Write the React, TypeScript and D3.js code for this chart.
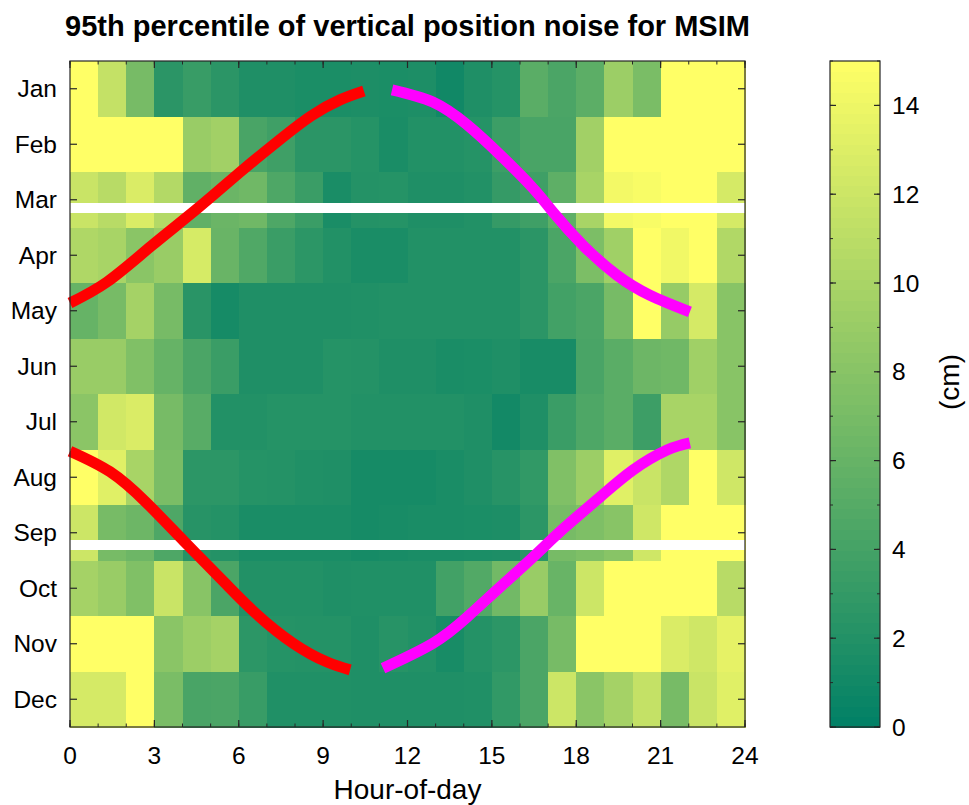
import React from 'react';
import * as d3 from 'd3';

const months = ['Jan', 'Feb', 'Mar', 'Apr', 'May', 'Jun', 'Jul', 'Aug', 'Sep', 'Oct', 'Nov', 'Dec'];
const hourTicks = [0, 3, 6, 9, 12, 15, 18, 21, 24];
const colorTicks = [0, 2, 4, 6, 8, 10, 12, 14];

// 95th percentile noise (cm), one row per month, 24 hourly bins
const noiseJan = [15, 11.5, 7, 2.5, 3.3, 2.5, 1.8, 1.8, 1.6, 1.6, 1.7, 1.6, 1.7, 1.0, 1.8, 2.2, 5.3, 4.4, 5.4, 9.2, 7.2, 15, 15, 15];
const noiseFeb = [15, 15, 15, 15, 9, 9.5, 4.3, 3.7, 2.5, 2.5, 2.2, 1.5, 2, 2, 2.2, 3.5, 4.3, 4.3, 9.5, 15, 15, 15, 15, 15];
const noiseMar = [11.8, 10.8, 12.8, 10.5, 5.7, 6.3, 6.6, 4.6, 3.4, 1.5, 2.1, 2.2, 1.8, 1.8, 2, 3.1, 3.7, 5.5, 9.9, 14.3, 14.6, 15, 15, 12.5];
const noiseApr = [10.3, 9.9, 8.1, 9, 12.6, 6.2, 4.7, 3.4, 2.6, 2, 1.5, 1.5, 2, 2, 2, 2, 2.5, 4.4, 7.3, 9.4, 15, 14.2, 15, 10.4];
const noiseMay = [6, 7, 9.7, 7, 2.4, 1.3, 1.8, 1.8, 1.8, 1.8, 1.9, 2, 2, 2, 2, 2, 2.5, 3.9, 4.4, 7, 15, 8.8, 12.5, 8];
const noiseJun = [9, 9, 7.5, 6, 4.4, 3.4, 1.8, 1.8, 1.8, 2.2, 2.1, 1.8, 1.8, 1.5, 1.6, 1.8, 1.4, 1.4, 4.3, 5.3, 6.4, 6.6, 9.4, 8];
const noiseJul = [8.2, 12.3, 12.8, 7, 5.2, 2, 2, 2.2, 2.2, 2.2, 2, 2, 2, 2, 1.8, 1.1, 1.8, 3.4, 4.6, 5.3, 3.6, 9.9, 9.9, 8];
const noiseAug = [15, 13.2, 9.9, 7.2, 2.6, 2.6, 2.2, 2.1, 1.9, 1.8, 1.3, 1.3, 1.3, 1.5, 1.8, 2.3, 2.9, 7.5, 9.2, 13.2, 11.8, 10.3, 15, 12.2];
const noiseSep = [12, 7, 6.4, 4.6, 2.3, 2.1, 1.5, 1.5, 1.5, 1.5, 1.3, 1.4, 1.5, 1.5, 1.6, 1.7, 2.6, 7, 7.4, 8, 12.2, 15, 15, 15];
const noiseOct = [9.7, 9, 7.5, 11.8, 8, 4.4, 2, 2, 2, 1.8, 1.9, 1.9, 1.9, 3.9, 4.8, 6.7, 9, 6.1, 12, 15, 15, 15, 15, 10.8];
const noiseNov = [15, 15, 15, 8.1, 9.2, 9.7, 2.6, 2.2, 2.1, 2.1, 1.8, 2.3, 2, 1.4, 2.1, 2.6, 4.4, 7, 15, 15, 15, 12.8, 12.2, 13.5];
const noiseDec = [12.5, 12.5, 15, 7.2, 4.3, 4.4, 3.3, 1.9, 1.9, 1.9, 1.8, 1.8, 1.8, 1.8, 1.9, 2.9, 4.4, 12, 8.1, 9.7, 11.5, 7, 11.8, 13.2];
const noise = [noiseJan, noiseFeb, noiseMar, noiseApr, noiseMay, noiseJun, noiseJul, noiseAug, noiseSep, noiseOct, noiseNov, noiseDec];

// equinoxes, in months since 1 Jan
const equinoxes = [2.65, 8.72];

// [hour, months since 1 Jan]
const redSpring: [number, number][] = [[0, 4.36], [1.32, 3.98], [2.9, 3.33], [4.55, 2.65], [6.1, 1.98], [7.4, 1.44], [8.57, 0.99], [9.6, 0.7], [10.45, 0.54]];
const redAutumn: [number, number][] = [[0, 7.03], [1.42, 7.4], [2.7, 7.95], [4.05, 8.65], [5.5, 9.4], [6.6, 9.95], [7.93, 10.49], [9.14, 10.83], [9.96, 10.97]];
const magentaSpring: [number, number][] = [[11.45, 0.52], [12.9, 0.74], [14.12, 1.15], [15.29, 1.69], [16.46, 2.29], [17.17, 2.72], [18.24, 3.32], [19.45, 3.86], [20.62, 4.22], [22.04, 4.52]];
const magentaAutumn: [number, number][] = [[11.13, 10.94], [12.91, 10.49], [14.12, 10.02], [15.29, 9.48], [16.46, 8.94], [17.6, 8.4], [18.84, 7.86], [20.02, 7.37], [21.23, 7.01], [22.04, 6.88]];

const W = 969;
const H = 805;
const left = 70, right = 745, top = 61, bottom = 727;
const cbLeft = 830, cbRight = 880;
const FONT = "'Liberation Sans', Arial, Helvetica, sans-serif";
const AX = '#262626';
const TICK_FS = 24.5;
const LABEL_FS = 28;

export default function App() {
  const x = d3.scaleLinear().domain([0, 24]).range([left, right]);
  const y = d3.scaleLinear().domain([0, 12]).range([top, bottom]);
  const color = d3.scaleLinear<string>().domain([0, 15]).range(['#008066', '#ffff66']).clamp(true);
  const cb = d3.scaleLinear().domain([0, 15]).range([bottom, top]);
  const line = d3.line<[number, number]>().x(d => x(d[0])).y(d => y(d[1])).curve(d3.curveNatural);

  const cells: JSX.Element[] = [];
  noise.forEach((row, mi) => {
    row.forEach((v, hi) => {
      const x0 = x(hi), x1 = x(hi + 1), y0 = y(mi), y1 = y(mi + 1);
      cells.push(
        <rect key={`${mi}-${hi}`} x={x0} y={y0} width={x1 - x0 + 0.6} height={y1 - y0 + 0.6} fill={color(v)} shapeRendering="crispEdges" />
      );
    });
  });

  const levels = d3.range(64);
  const step = 15 / 64;

  const minorHours = d3.range(0, 25);
  const minorCb = d3.range(0, 16);

  return (
    <svg width={W} height={H} style={{ position: 'absolute', left: 0, top: 0, background: '#fff' }} fontFamily={FONT}>
      <rect x={0} y={0} width={W} height={H} fill="#fff" />
      <g>{cells}</g>
      {equinoxes.map((e, i) => (
        <line key={i} x1={left} x2={right} y1={y(e)} y2={y(e)} stroke="#fff" strokeWidth={10} />
      ))}
      {[redSpring, redAutumn].map((c, i) => (
        <path key={'r' + i} d={line(c) || ''} fill="none" stroke="#ff0000" strokeWidth={11} strokeLinecap="butt" />
      ))}
      {[magentaSpring, magentaAutumn].map((c, i) => (
        <path key={'m' + i} d={line(c) || ''} fill="none" stroke="#ff00ff" strokeWidth={11} strokeLinecap="butt" />
      ))}

      {/* axes box */}
      <rect x={left} y={top} width={right - left} height={bottom - top} fill="none" stroke={AX} strokeWidth={1.2} />
      {minorHours.map(h => (
        <g key={'mh' + h}>
          <line x1={x(h)} x2={x(h)} y1={bottom} y2={bottom - 3.5} stroke={AX} />
          <line x1={x(h)} x2={x(h)} y1={top} y2={top + 3.5} stroke={AX} />
        </g>
      ))}
      {hourTicks.map(h => (
        <g key={'h' + h}>
          <line x1={x(h)} x2={x(h)} y1={bottom} y2={bottom - 7} stroke={AX} strokeWidth={1.2} />
          <line x1={x(h)} x2={x(h)} y1={top} y2={top + 7} stroke={AX} strokeWidth={1.2} />
          <text x={x(h)} y={764} textAnchor="middle" fontSize={TICK_FS} fill="#000">{h}</text>
        </g>
      ))}
      {months.map((m, i) => (
        <g key={m}>
          <line x1={left} x2={left + 7} y1={y(i + 0.5)} y2={y(i + 0.5)} stroke={AX} strokeWidth={1.2} />
          <line x1={right} x2={right - 7} y1={y(i + 0.5)} y2={y(i + 0.5)} stroke={AX} strokeWidth={1.2} />
          <text x={57} y={y(i + 0.5)} dy="0.35em" textAnchor="end" fontSize={TICK_FS} fill="#000">{m}</text>
        </g>
      ))}
      <text x={(left + right) / 2} y={799} textAnchor="middle" fontSize={LABEL_FS} fill="#000">Hour-of-day</text>
      <text x={(left + right) / 2} y={36} textAnchor="middle" fontSize={29} fontWeight="bold" fill="#000">95th percentile of vertical position noise for MSIM</text>

      {/* colorbar */}
      {levels.map(l => (
        <rect key={'cb' + l} x={cbLeft} y={cb((l + 1) * step)} width={cbRight - cbLeft} height={cb(l * step) - cb((l + 1) * step) + 0.5} fill={color((l + 0.5) * step)} shapeRendering="crispEdges" />
      ))}
      <rect x={cbLeft} y={top} width={cbRight - cbLeft} height={bottom - top} fill="none" stroke={AX} strokeWidth={1.2} />
      {minorCb.map(v => (
        <g key={'mc' + v}>
          <line x1={cbLeft} x2={cbLeft + 3} y1={cb(v)} y2={cb(v)} stroke={AX} />
          <line x1={cbRight} x2={cbRight - 3} y1={cb(v)} y2={cb(v)} stroke={AX} />
        </g>
      ))}
      {colorTicks.map(v => (
        <g key={'c' + v}>
          <line x1={cbLeft} x2={cbLeft + 6} y1={cb(v)} y2={cb(v)} stroke={AX} strokeWidth={1.2} />
          <line x1={cbRight} x2={cbRight - 6} y1={cb(v)} y2={cb(v)} stroke={AX} strokeWidth={1.2} />
          <text x={892} y={cb(v)} dy="0.35em" fontSize={TICK_FS} fill="#000">{v}</text>
        </g>
      ))}
      <text transform={`translate(959, ${(top + bottom) / 2 - 12}) rotate(-90)`} textAnchor="middle" fontSize={LABEL_FS} fill="#000">(cm)</text>
    </svg>
  );
}
